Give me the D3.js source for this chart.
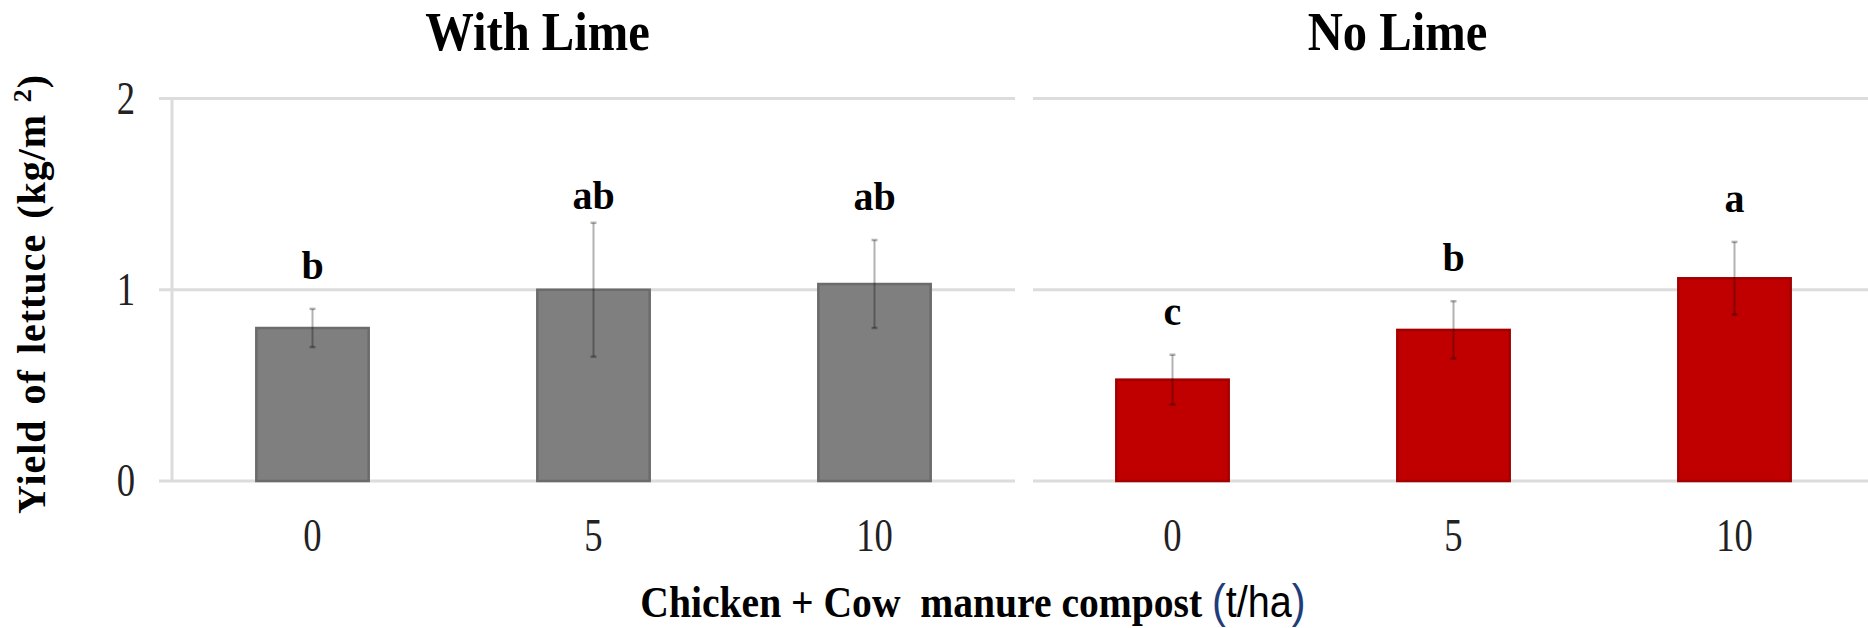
<!DOCTYPE html>
<html>
<head>
<meta charset="utf-8">
<script src="https://cdn.jsdelivr.net/npm/d3@7"></script>
<style>
  html, body { margin: 0; padding: 0; background: #fff; }
  svg { display: block; }
</style>
</head>
<body>
<script>
// compost dose (t/ha)
const doses = ["0", "5", "10"];

const withLimeMean = [0.80, 1.00, 1.03];
const withLimeErr = [0.10, 0.35, 0.23];
const withLimeLetters = ["b", "ab", "ab"];

const noLimeMean = [0.53, 0.79, 1.06];
const noLimeErr = [0.13, 0.15, 0.19];
const noLimeLetters = ["c", "b", "a"];

const yTicks = [0, 1, 2];

const W = 1868, H = 628;
const serif = "'Liberation Serif', 'Times New Roman', serif";
const sans = "'Liberation Sans', Arial, sans-serif";

const svg = d3.select('body').append('svg')
    .attr('width', W)
    .attr('height', H);

const y = d3.scaleLinear().domain([0, 2]).range([481, 98.5]);

const panels = [
    { title: "With Lime", mean: withLimeMean, err: withLimeErr, letters: withLimeLetters,
      range: [172, 1015], grid: [159, 1015], fill: "#7f7f7f", stroke: "#6b6b6b", axisLine: true },
    { title: "No Lime", mean: noLimeMean, err: noLimeErr, letters: noLimeLetters,
      range: [1032, 1875], grid: [1033, 1868], fill: "#c00000", stroke: "#a20000", axisLine: false }
];

panels.forEach(p => {
    const x = d3.scaleBand()
        .domain(doses)
        .range(p.range)
        .paddingInner(0.6)
        .paddingOuter(0.3);

    const g = svg.append('g');

    // gridlines
    g.selectAll('.grid')
        .data(yTicks)
        .enter()
        .append('line')
        .attr('x1', p.grid[0])
        .attr('x2', p.grid[1])
        .attr('y1', d => y(d))
        .attr('y2', d => y(d))
        .attr('stroke', '#dcdcdc')
        .attr('stroke-width', 3);

    if (p.axisLine) {
        g.append('line')
            .attr('x1', p.range[0]).attr('x2', p.range[0])
            .attr('y1', y(2)).attr('y2', y(0))
            .attr('stroke', '#dcdcdc')
            .attr('stroke-width', 3);
    }

    const rows = doses.map((d, i) => ({ dose: d, mean: p.mean[i], err: p.err[i], letter: p.letters[i] }));

    // bars
    g.selectAll('.bar')
        .data(rows)
        .enter()
        .append('rect')
        .attr('x', d => x(d.dose))
        .attr('width', x.bandwidth())
        .attr('y', d => y(d.mean))
        .attr('height', d => y(0) - y(d.mean))
        .attr('fill', p.fill)
        .attr('stroke', p.stroke)
        .attr('stroke-width', 2.5);

    // error bars
    const cx = d => x(d.dose) + x.bandwidth() / 2;
    g.selectAll('.err')
        .data(rows)
        .enter()
        .append('line')
        .attr('x1', cx).attr('x2', cx)
        .attr('y1', d => y(d.mean + d.err))
        .attr('y2', d => y(d.mean - d.err))
        .attr('stroke', '#000')
        .attr('stroke-opacity', 0.3)
        .attr('stroke-width', 2);

    g.selectAll('.cap')
        .data(rows.flatMap(d => [{ d: d, v: d.mean + d.err }, { d: d, v: d.mean - d.err }]))
        .enter()
        .append('line')
        .attr('x1', c => cx(c.d) - 3).attr('x2', c => cx(c.d) + 3)
        .attr('y1', c => y(c.v)).attr('y2', c => y(c.v))
        .attr('stroke', '#000')
        .attr('stroke-opacity', 0.3)
        .attr('stroke-width', 2.5);

    // significance letters
    g.selectAll('.letter')
        .data(rows)
        .enter()
        .append('text')
        .attr('x', cx)
        .attr('y', d => Math.max(y(d.mean + d.err) - 30, y(1.42)))
        .attr('text-anchor', 'middle')
        .attr('font-family', serif)
        .attr('font-weight', 'bold')
        .attr('font-size', 40)
        .text(d => d.letter);

    // x tick labels
    g.selectAll('.xtick')
        .data(doses)
        .enter()
        .append('text')
        .attr('transform', d => `translate(${x(d) + x.bandwidth() / 2},551) scale(0.78,1)`)
        .attr('text-anchor', 'middle')
        .attr('font-family', serif)
        .attr('font-size', 47)
        .attr('fill', '#222')
        .text(d => d);

    // panel title
    const mid = (p.range[0] + p.range[1]) / 2 - 56;
    g.append('text')
        .attr('transform', `translate(${mid},50) scale(0.9,1)`)
        .attr('text-anchor', 'middle')
        .attr('font-family', serif)
        .attr('font-weight', 'bold')
        .attr('font-size', 54)
        .text(p.title);
});

// y tick labels
svg.selectAll('.ytick')
    .data(yTicks)
    .enter()
    .append('text')
    .attr('transform', d => `translate(126,${y(d) + 15}) scale(0.78,1)`)
    .attr('text-anchor', 'middle')
    .attr('font-family', serif)
    .attr('font-size', 47)
    .attr('fill', '#222')
    .text(d => d);

// y axis title
const yt = svg.append('text')
    .attr('transform', 'translate(45,294) rotate(-90)')
    .attr('text-anchor', 'middle')
    .attr('font-family', serif)
    .attr('font-weight', 'bold')
    .attr('font-size', 40)
    .attr('letter-spacing', 1)
    .attr('word-spacing', 4);
yt.append('tspan').text('Yield of lettuce (kg/m');
yt.append('tspan').attr('font-size', 26).attr('dy', -14).text(' 2');
yt.append('tspan').attr('dy', 14).text(')');

// x axis title
const xt = svg.append('text')
    .attr('transform', 'translate(973,617) scale(0.9,1)')
    .attr('text-anchor', 'middle')
    .attr('font-family', serif)
    .attr('font-weight', 'bold')
    .attr('font-size', 44)
    .attr('xml:space', 'preserve');
xt.append('tspan').text('Chicken + Cow  manure compost ');
xt.append('tspan').attr('font-family', sans).attr('font-weight', 'normal').attr('font-size', 46).attr('fill', '#1f3d7a').text('(');
xt.append('tspan').attr('font-family', sans).attr('font-weight', 'normal').attr('font-size', 44).attr('fill', '#000').text('t/ha');
xt.append('tspan').attr('font-family', sans).attr('font-weight', 'normal').attr('font-size', 46).attr('fill', '#1f3d7a').text(')');
</script>
</body>
</html>
